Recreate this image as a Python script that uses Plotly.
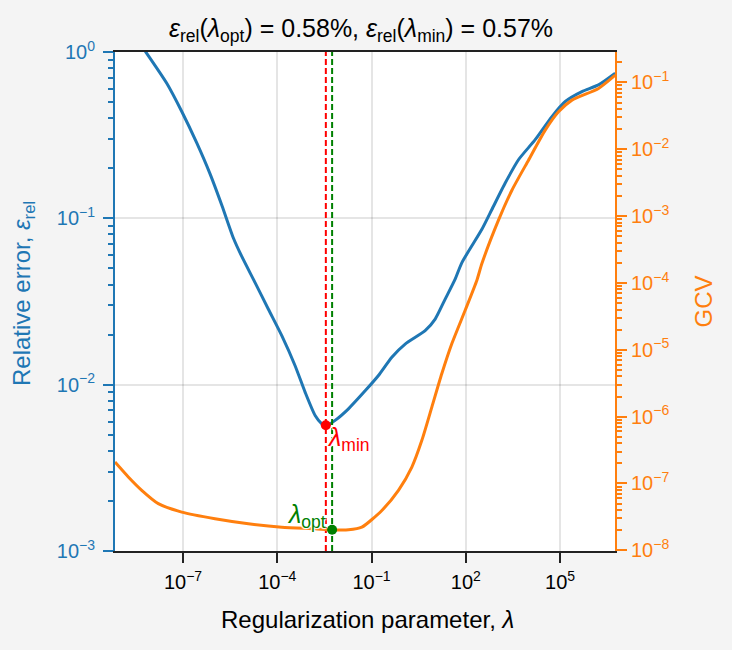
import math
import plotly.graph_objects as go

# ---- data ----
lam_err = [6.82e-10, 6.98e-9, 3.03e-8, 9.10e-8, 2.73e-7, 7.24e-7, 1.75e-6, 4.00e-6,
           7.40e-6, 1.96e-5, 5.21e-5, 1.39e-4, 3.69e-4, 7.67e-4, 1.60e-3, 2.61e-3,
           3.51e-3, 6.93e-3, 1.84e-2, 6.25e-2, 0.166, 0.443, 1.175, 5.09, 10.6, 22.1,
           45.9, 75.2, 326, 678, 1800, 4760, 1.62e4, 5.52e4, 1.47e5, 4.98e5, 1.68e6, 5.73e6]
rel_err = [1.84, 0.982, 0.649, 0.439, 0.284, 0.185, 0.1186, 0.0762,
           0.0590, 0.0411, 0.0284, 0.0197, 0.0130, 0.00902, 0.00653, 0.00582,
           0.00564, 0.00610, 0.00716, 0.00918, 0.01135, 0.01462, 0.01754, 0.0211, 0.0248, 0.0327,
           0.0431, 0.0542, 0.0859, 0.113, 0.163, 0.225, 0.297, 0.409, 0.504, 0.578, 0.634, 0.745]

lam_gcv = [6.82e-10, 1.81e-9, 4.84e-9, 1.63e-8, 9.10e-8, 1.04e-6, 1.20e-5, 1.39e-4,
           1.60e-3, 5.45e-3, 1.84e-2, 4.91e-2, 0.213, 0.719, 1.92, 4.00, 8.32, 17.3,
           36.1, 95.7, 226, 326, 1100, 2940, 9930, 3.38e4, 8.95e4, 2.39e5, 1.68e6, 5.73e6]
gcv = [2.09e-7, 1.25e-7, 7.89e-8, 4.99e-8, 3.73e-8, 2.97e-8, 2.50e-8, 2.22e-8,
       2.10e-8, 2.03e-8, 2.03e-8, 2.22e-8, 3.95e-8, 7.89e-8, 1.76e-7, 4.42e-7, 1.39e-6, 4.41e-6,
       1.24e-5, 3.90e-5, 1.10e-4, 1.95e-4, 8.69e-4, 2.44e-3, 6.87e-3, 1.93e-2, 3.63e-2, 5.43e-2, 8.13e-2, 0.1285]

lam_min, err_min = 3.51e-3, 0.0057
lam_opt, gcv_opt = 5.56e-3, 2.03e-8

x_ticks = [1e-7, 1e-4, 1e-1, 1e2, 1e5]
x_ticktext = ["10<sup>−7</sup>", "10<sup>−4</sup>", "10<sup>−1</sup>", "10<sup>2</sup>", "10<sup>5</sup>"]
y_ticks = [1, 1e-1, 1e-2, 1e-3]
y_ticktext = ["10<sup>0</sup>", "10<sup>−1</sup>", "10<sup>−2</sup>", "10<sup>−3</sup>"]
y2_exps = [-1, -2, -3, -4, -5, -6, -7, -8]

BLUE = "#1f77b4"
ORANGE = "#ff7f0e"
RED = "#ff0000"
GREEN = "#008000"
FONT = "Liberation Sans, Arial, sans-serif"
TICK_FS = 20
LAB_FS = 24
TITLE_FS = 25
MARK_FS = 25

def minors(lo, hi):
    out = []
    for e in range(lo, hi):
        for m in range(2, 10):
            out.append(m * 10.0 ** e)
    return out

y2_ticks = [10.0 ** e for e in y2_exps]
y2_ticktext = ["10<sup>−%d</sup>" % (-e) for e in y2_exps]
y_lo, y_hi = min(y_ticks), max(y_ticks)

fig = go.Figure()
fig.add_trace(go.Scatter(x=lam_err, y=rel_err, mode="lines", yaxis="y",
                         line=dict(color=BLUE, width=3, shape="spline", smoothing=0.6),
                         showlegend=False, hoverinfo="skip"))
# vertical dashed markers at lambda_min and lambda_opt
for lam, col in [(lam_min, RED), (lam_opt, GREEN)]:
    fig.add_trace(go.Scatter(x=[lam, lam], y=[y_lo, y_hi], mode="lines", yaxis="y",
                             line=dict(color=col, width=2, dash="6px,3px"),
                             showlegend=False, hoverinfo="skip"))
fig.add_trace(go.Scatter(x=[lam_min], y=[err_min], mode="markers", yaxis="y",
                         marker=dict(color=RED, size=10), showlegend=False))
fig.add_trace(go.Scatter(x=lam_gcv, y=gcv, mode="lines", yaxis="y2",
                         line=dict(color=ORANGE, width=3, shape="spline", smoothing=0.6),
                         showlegend=False, hoverinfo="skip"))
fig.add_trace(go.Scatter(x=[lam_opt], y=[gcv_opt], mode="markers", yaxis="y2",
                         marker=dict(color=GREEN, size=10), showlegend=False))

halo = "1px 1px 1px #fff, -1px -1px 1px #fff, 1px -1px 1px #fff, -1px 1px 1px #fff"
fig.add_annotation(x=math.log10(lam_min), y=math.log10(err_min), xref="x", yref="y",
                   text="<i>λ</i><sub>min</sub>", showarrow=False, xanchor="left", yanchor="top",
                   xshift=-1, yshift=4,
                   font=dict(family=FONT, size=MARK_FS, color=RED, shadow=halo))
fig.add_annotation(x=math.log10(lam_opt), y=math.log10(gcv_opt), xref="x", yref="y2",
                   text="<i>λ</i><sub>opt</sub>", showarrow=False, xanchor="right", yanchor="bottom",
                   xshift=-4, yshift=-4,
                   font=dict(family=FONT, size=MARK_FS, color=GREEN, shadow=halo))

# axis titles and title
fig.add_annotation(text="Relative error, <i>ε</i><sub>rel</sub>", xref="paper", yref="paper",
                   x=-0.184, y=0.515, textangle=-90, showarrow=False, xanchor="center", yanchor="middle",
                   font=dict(family=FONT, size=LAB_FS, color=BLUE))
fig.add_annotation(text="GCV", xref="paper", yref="paper",
                   x=1.176, y=0.5, textangle=-90, showarrow=False, xanchor="center", yanchor="middle",
                   font=dict(family=FONT, size=LAB_FS, color=ORANGE))
fig.add_annotation(text="Regularization parameter, <i>λ</i>", xref="paper", yref="paper",
                   x=0.504, y=-0.138, showarrow=False, xanchor="center", yanchor="middle",
                   font=dict(family=FONT, size=LAB_FS, color="black"))
fig.add_annotation(text="<i>ε</i><sub>rel</sub>(<i>λ</i><sub>opt</sub>)\u00a0=\u00a00.58%,\u00a0"
                        "<i>ε</i><sub>rel</sub>(<i>λ</i><sub>min</sub>)\u00a0=\u00a00.57%",
                   xref="paper", yref="paper", x=0.492, y=1.044, showarrow=False,
                   xanchor="center", yanchor="middle",
                   font=dict(family=FONT, size=TITLE_FS, color="black"))

fig.update_layout(
    width=732, height=650,
    margin=dict(l=115, r=117, t=52, b=99),
    paper_bgcolor="#f4f4f4", plot_bgcolor="white",
    font=dict(family=FONT, size=TICK_FS),
    xaxis=dict(type="log", range=[-9.166, 6.75], tickmode="array", tickvals=x_ticks,
               ticktext=x_ticktext, ticks="outside", ticklen=10, tickwidth=2, tickcolor="#222",
               showline=True, linecolor="#222", linewidth=2, mirror=True,
               showgrid=True, gridcolor="rgba(0,0,0,0.1)", gridwidth=1.5,
               tickfont=dict(color="black", size=TICK_FS), zeroline=False, ticklabelstandoff=2),
    yaxis=dict(type="log", range=[math.log10(y_lo), math.log10(y_hi)], tickmode="array",
               tickvals=y_ticks, ticktext=y_ticktext,
               ticks="outside", ticklen=10, tickwidth=2, tickcolor=BLUE,
               showline=True, linecolor=BLUE, linewidth=2,
               showgrid=True, gridcolor="rgba(0,0,0,0.1)", gridwidth=1.5,
               tickfont=dict(color=BLUE, size=TICK_FS), zeroline=False, ticklabelstandoff=4,
               minor=dict(tickmode="array", tickvals=minors(-3, 0), ticks="outside", ticklen=5,
                          tickwidth=1.5, tickcolor=BLUE, showgrid=False)),
    yaxis2=dict(type="log", range=[-8.01, -0.545], overlaying="y", side="right",
                tickmode="array", tickvals=y2_ticks, ticktext=y2_ticktext,
                ticks="outside", ticklen=10, tickwidth=2, tickcolor=ORANGE,
                showline=True, linecolor=ORANGE, linewidth=2, showgrid=False,
                tickfont=dict(color=ORANGE, size=TICK_FS), zeroline=False,
                minor=dict(tickmode="array", tickvals=minors(-8, 0), ticks="outside", ticklen=5,
                           tickwidth=1.5, tickcolor=ORANGE, showgrid=False)),
)

fig.write_html("out.html")
